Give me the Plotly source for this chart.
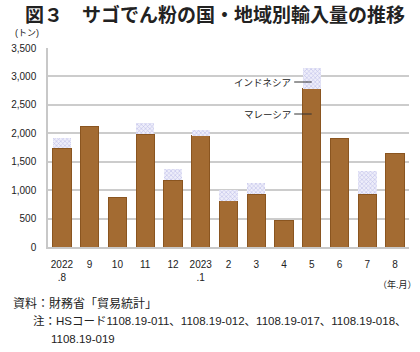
import plotly.graph_objects as go

# ---- data ----
months = ["2022<br>.8", "9", "10", "11", "12", "2023<br>.1", "2", "3", "4", "5", "6", "7", "8"]
malaysia = [1735, 2116, 864, 1982, 1171, 1958, 811, 924, 471, 2787, 1900, 924, 1640]
indonesia = [176, 0, 0, 194, 205, 100, 189, 205, 0, 359, 0, 416, 0]
y_ticks = [0, 500, 1000, 1500, 2000, 2500, 3000, 3500]
y_tick_text = ["0", "500", "1,000", "1,500", "2,000", "2,500", "3,000", "3,500"]

W, H = 420, 352
L, R, T, B = 38, 11, 48, 105
PW, PH = W - L - R, H - T - B

def px(x):
    return (x - L) / PW

def py(y):
    return (H - B - y) / PH

FONT = "Liberation Sans, Noto Sans CJK JP, Arial, sans-serif"
JFONT = "Noto Sans CJK JP, sans-serif"
BROWN = "#a36b32"

fig = go.Figure()
fig.add_trace(go.Bar(
    x=months, y=malaysia, name="マレーシア",
    marker=dict(color=BROWN, line=dict(color="#8a5520", width=1)),
))
fig.add_trace(go.Bar(
    x=months, y=indonesia, name="インドネシア",
    marker=dict(color="#ffffff",
                pattern=dict(shape="x", fgcolor="#8c8cd6", bgcolor="#eeeefa", size=3, solidity=0.35),
                line=dict(width=0)),
))

fig.update_layout(
    width=W, height=H,
    margin=dict(l=L, r=R, t=T, b=B),
    barmode="stack", bargap=0.34,
    showlegend=False,
    plot_bgcolor="white", paper_bgcolor="white",
    font=dict(family=FONT, size=10, color="#222222"),
    xaxis=dict(
        type="category", showgrid=False, showline=True, linecolor="#c8c8c8", linewidth=1.5,
        ticks="", tickfont=dict(size=10), ticklabelstandoff=7,
    ),
    yaxis=dict(
        range=[0, 3500], tickvals=y_ticks, ticktext=y_tick_text,
        showgrid=True, gridcolor="#cccccc", gridwidth=1.5,
        showline=True, linecolor="#c8c8c8", linewidth=1.5,
        zeroline=False, ticks="", tickfont=dict(size=10), ticklabelstandoff=8,
    ),
)

ann = []
ann.append(dict(text="<b>図３　サゴでん粉の国・地域別輸入量の推移</b>", x=px(210), y=py(14),
                xanchor="center", yanchor="middle", font=dict(family=JFONT, size=19, color="#222222")))
ann.append(dict(text="(トン)", x=px(2), y=py(33), xanchor="left", yanchor="middle",
                font=dict(size=9)))
ann.append(dict(text="（年.月）", x=px(419), y=py(284), xanchor="right", yanchor="middle",
                font=dict(size=9)))
ann.append(dict(text="インドネシア", x=px(290), y=py(82), xanchor="right", yanchor="middle",
                font=dict(size=9.5)))
ann.append(dict(text="マレーシア", x=px(290), y=py(114), xanchor="right", yanchor="middle",
                font=dict(size=9.5)))
ann.append(dict(text="資料：財務省「貿易統計」", x=px(0), y=py(303), xanchor="left", yanchor="middle",
                font=dict(size=12)))
ann.append(dict(text="注：HSコード1108.19-011、1108.19-012、1108.19-017、1108.19-018、", x=px(21), y=py(321),
                xanchor="left", yanchor="middle", font=dict(size=11.5)))
ann.append(dict(text="1108.19-019", x=px(39), y=py(339), xanchor="left", yanchor="middle",
                font=dict(size=11.5)))
for a in ann:
    a.update(xref="paper", yref="paper", showarrow=False)
fig.update_layout(annotations=ann)

shapes = [
    dict(type="line", xref="paper", yref="paper", x0=px(291), x1=px(309), y0=py(82), y1=py(82),
         line=dict(color="#333333", width=1)),
    dict(type="line", xref="paper", yref="paper", x0=px(291), x1=px(309), y0=py(114), y1=py(114),
         line=dict(color="#333333", width=1)),
]
fig.update_layout(shapes=shapes)

fig.write_html("out.html")
